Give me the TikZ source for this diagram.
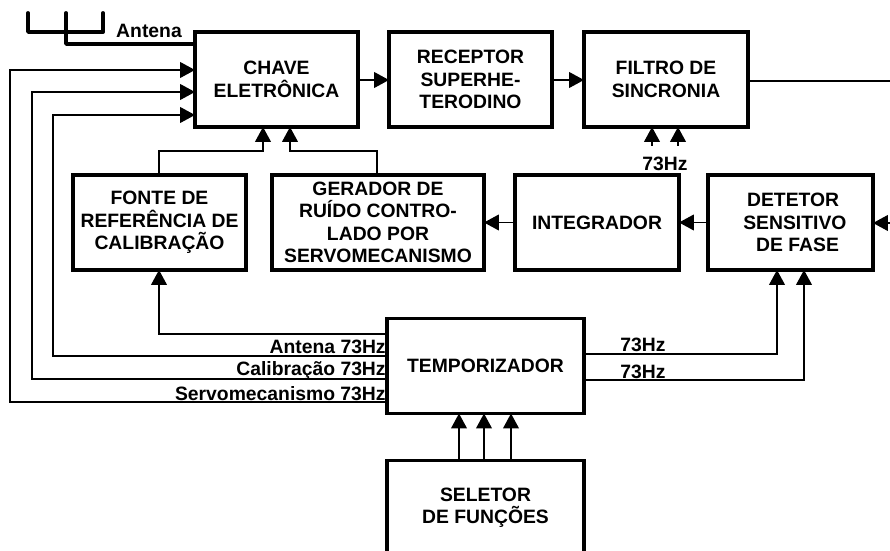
\documentclass[tikz,border=0pt]{standalone}
\usepackage{fontspec}
\setmainfont{Liberation Sans}
\usepackage{tikz}
\usetikzlibrary{arrows.meta,positioning}

\begin{document}
\begin{tikzpicture}[
    x=0.2mm, y=-0.2mm,
    box/.style = {rectangle, draw=black, line width=1.9pt, fill=white, align=center,
                  inner sep=0pt, outer sep=0pt, minimum height=95*0.2mm,
                  font=\fontsize{11}{12.7}\selectfont\bfseries},
    arrow/.style = {-{Triangle[length=8.5pt,width=9pt]}, line width=0.8pt, color=black},
    wire/.style = {line width=0.8pt, color=black},
    aerial/.style = {line width=2.2pt, color=black, line cap=round, line join=round},
    rotulo/.style = {font=\fontsize{11}{12}\selectfont\bfseries, inner sep=0pt}
  ]
    \useasboundingbox (0,0) rectangle (890,551);

    %% ---- top row ----
    \node[box, minimum width=163*0.2mm] (chave)    at (276.5,79.5) {CHAVE\\ELETRÔNICA};
    \node[box, minimum width=163*0.2mm] (receptor) at (470.5,79.5) {RECEPTOR\\SUPERHE-\\TERODINO};
    \node[box, minimum width=164*0.2mm] (filtro)   at (666,79.5)   {FILTRO DE\\SINCRONIA};

    %% ---- middle row ----
    \node[box, minimum width=173*0.2mm] (fonte)  at (159.5,222.5) {FONTE DE\\REFERÊNCIA DE\\CALIBRAÇÃO};
    \node[box, minimum width=212*0.2mm] (gerador) at (378,222.5)  {GERADOR DE\\RUÍDO CONTRO-\\LADO POR\\SERVOMECANISMO};
    \node[box, minimum width=164*0.2mm] (integrador) at (597,222.5) {INTEGRADOR};
    \node[box, minimum width=165*0.2mm] (detetor) at (790.5,222.5) {\hspace*{3pt}DETETOR\\\hspace*{5pt}SENSITIVO\\\hspace*{8pt}DE FASE};

    %% ---- bottom ----
    \node[box, minimum width=197*0.2mm] (temporizador) at (485.5,366) {TEMPORIZADOR};
    \node[box, minimum width=197*0.2mm] (seletor) at (485.5,508) {SELETOR\\DE FUNÇÕES};

    %% ---- antenna ----
    \coordinate (ant1) at (28,13);
    \coordinate (ant2) at (103,13);
    \coordinate (ant3) at (66,13);
    \draw[aerial] (ant1) -- (28,32) -- (103,32) -- (ant2);
    \draw[aerial] (ant3) -- (66,44) -- (chave.west |- 0,44);
    \node[rotulo] (antena) at (149,30.5) {Antena};

    %% ---- signal path ----
    \draw[arrow] (chave.east |- 0,80) -- (receptor.west |- 0,80);
    \draw[arrow] (receptor.east |- 0,80) -- (filtro.west |- 0,80);
    \coordinate (saida) at (890,81);
    \draw[wire] (filtro.east |- saida) -- (saida);
    \coordinate (entrada) at (890,223);
    \draw[arrow] (entrada) -- (detetor.east |- entrada);
    \draw[arrow] (detetor.west) -- (integrador.east);
    \draw[arrow] (integrador.west) -- (gerador.east);

    %% ---- into the switch ----
    \draw[arrow] (fonte.north -| 159,0) -- (159,151) -- (263,151) -- (chave.south -| 263,0);
    \draw[arrow] (gerador.north -| 377,0) -- (377,151) -- (290,151) -- (chave.south -| 290,0);

    %% ---- 73 Hz into the filter ----
    \node[rotulo] (hzfiltro) at (665,164) {73Hz};
    \draw[arrow] (652,146) -- (filtro.south -| 652,0);
    \draw[arrow] (678,146) -- (filtro.south -| 678,0);

    %% ---- timer outputs, left side ----
    \draw[arrow] (temporizador.west |- 0,334) -- (159,334) -- (fonte.south -| 159,0);
    \draw[arrow] (temporizador.west |- 0,356) -- (53,356) -- (53,115) -- (chave.west |- 0,115);
    \draw[arrow] (temporizador.west |- 0,379) -- (32,379) -- (32,92) -- (chave.west |- 0,92);
    \draw[arrow] (temporizador.west |- 0,402) -- (10,402) -- (10,70) -- (chave.west |- 0,70);
    \node[rotulo, anchor=east] (hzantena) at (386,347) {Antena 73Hz};
    \node[rotulo, anchor=east] (hzcalib)  at (386,371) {Calibração 73Hz};
    \node[rotulo, anchor=east] (hzservo)  at (386,394) {Servomecanismo 73Hz};

    %% ---- timer outputs, right side ----
    \draw[arrow] (temporizador.east |- 0,354) -- (777,354) -- (detetor.south -| 777,0);
    \draw[arrow] (temporizador.east |- 0,380) -- (804,380) -- (detetor.south -| 804,0);
    \node[rotulo] (hzdet1) at (643,345) {73Hz};
    \node[rotulo] (hzdet2) at (643,372) {73Hz};

    %% ---- function selector ----
    \draw[arrow] (seletor.north -| 459,0) -- (temporizador.south -| 459,0);
    \draw[arrow] (seletor.north -| 484,0) -- (temporizador.south -| 484,0);
    \draw[arrow] (seletor.north -| 511,0) -- (temporizador.south -| 511,0);
\end{tikzpicture}
\end{document}
